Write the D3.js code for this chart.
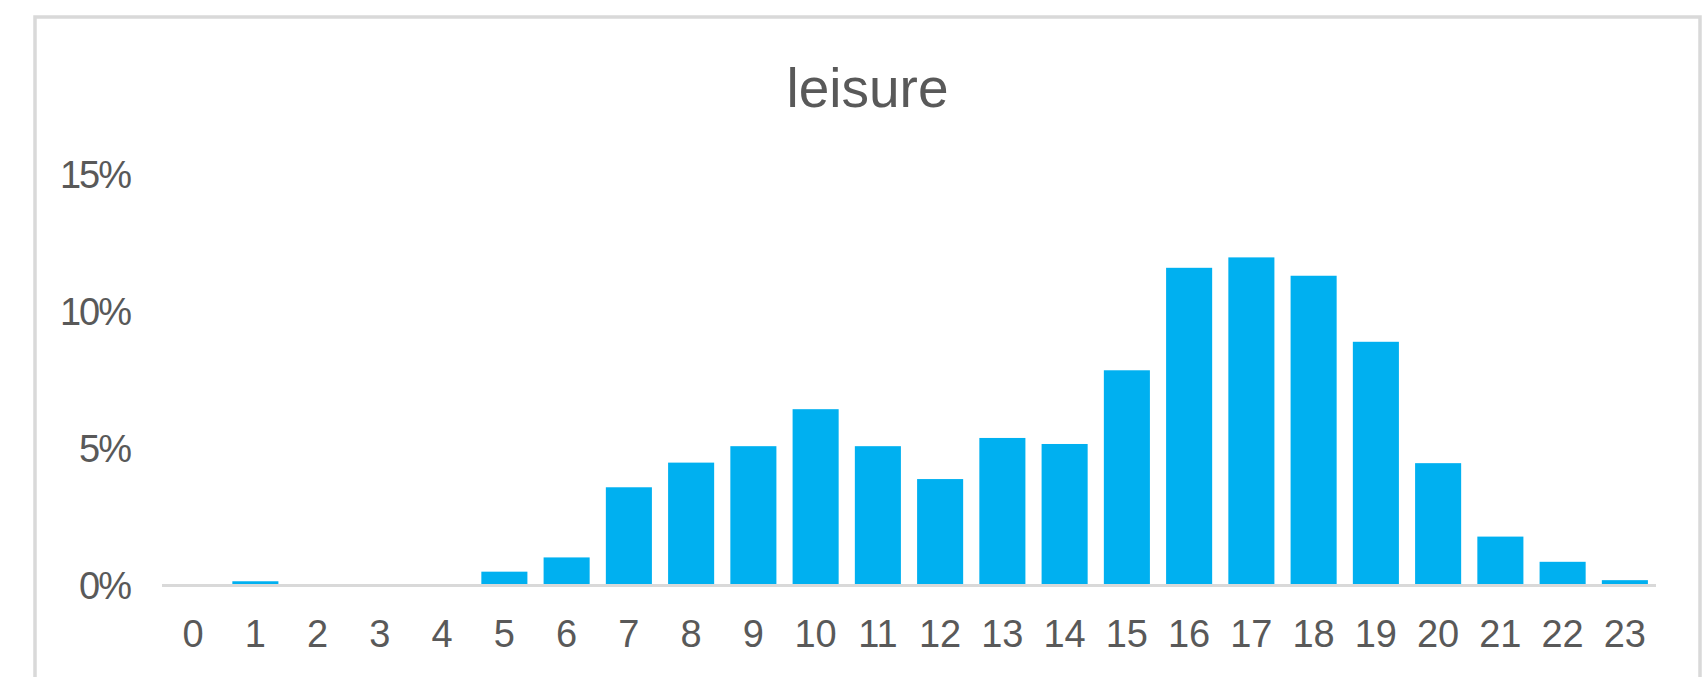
<!DOCTYPE html>
<html>
<head>
<meta charset="utf-8">
<script src="https://cdn.jsdelivr.net/npm/d3@7"></script>
<style>
  body { margin: 0; background: #fff; }
  text { font-family: "Liberation Sans", Arial, sans-serif; fill: #595959; }
</style>
</head>
<body>
<div id="chart"></div>
<script>
// hours of the day and share of leisure trips (%)
var hours = ["0", "1", "2", "3", "4", "5", "6", "7", "8", "9", "10", "11",
             "12", "13", "14", "15", "16", "17", "18", "19", "20", "21", "22", "23"];
var shares = [0, 0.1, 0, 0, 0, 0.45, 0.97, 3.53, 4.43, 5.03, 6.38, 5.03,
              3.83, 5.33, 5.11, 7.8, 11.54, 11.92, 11.25, 8.84, 4.41, 1.73, 0.81, 0.14];
var yTicks = [0, 5, 10, 15];
var title = "leisure";

var width = 1705, height = 677;

var svg = d3.select("#chart").append("svg")
    .attr("width", width)
    .attr("height", height);

// outer frame (bottom edge runs past the picture)
svg.append("rect")
    .attr("x", 35)
    .attr("y", 17)
    .attr("width", 1665)
    .attr("height", 720)
    .style("fill", "#fff")
    .style("stroke", "#d9d9d9")
    .style("stroke-width", 3.5);

// title
svg.append("text")
    .attr("x", 867.5)
    .attr("y", 107)
    .attr("text-anchor", "middle")
    .style("font-size", "55px")
    .text(title);

var x = d3.scaleBand()
    .domain(hours)
    .range([162, 1656])
    .paddingInner(0.26)
    .paddingOuter(0.13);

var y = d3.scaleLinear()
    .domain([0, 15])
    .range([584, 173]);

// bars
svg.append("g").selectAll("rect")
    .data(shares)
    .join("rect")
    .attr("x", function(d, i) { return x(hours[i]); })
    .attr("y", function(d) { return y(d); })
    .attr("width", x.bandwidth())
    .attr("height", function(d) { return y(0) - y(d); })
    .style("fill", "#00b0f0");

// baseline
svg.append("line")
    .attr("x1", 162)
    .attr("x2", 1656)
    .attr("y1", 585.5)
    .attr("y2", 585.5)
    .style("stroke", "#d9d9d9")
    .style("stroke-width", 3);

// y axis labels
var yAxis = svg.append("g")
    .attr("transform", "translate(162,2)")
    .call(d3.axisLeft(y).tickValues(yTicks).tickSize(0).tickPadding(32)
        .tickFormat(function(d) { return d + "%"; }));
yAxis.select(".domain").remove();
yAxis.selectAll("text")
    .style("font-size", "38px")
    .style("letter-spacing", "-2px")
    .style("font-family", "Liberation Sans, Arial, sans-serif")
    .attr("fill", "#595959");

// x axis labels
var xAxis = svg.append("g")
    .attr("transform", "translate(0,585)")
    .call(d3.axisBottom(x).tickSize(0).tickPadding(35));
xAxis.select(".domain").remove();
xAxis.selectAll("text")
    .style("font-size", "38px")
    .style("font-family", "Liberation Sans, Arial, sans-serif")
    .attr("fill", "#595959");
</script>
</body>
</html>
